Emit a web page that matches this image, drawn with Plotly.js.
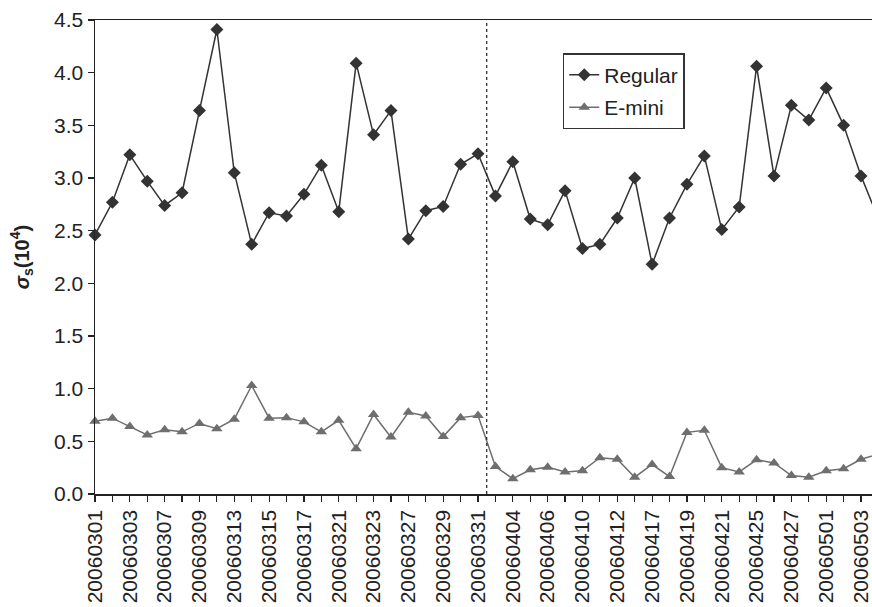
<!DOCTYPE html>
<html>
<head>
<meta charset="utf-8">
<script src="https://cdn.plot.ly/plotly-3.0.1.min.js"></script>
<style>html,body{margin:0;padding:0;background:#fff;}</style>
</head>
<body>
<div id="chart" style="width:872px;height:607px;"></div>
<script>
const dates = ["20060301","20060302","20060303","20060306","20060307","20060308","20060309","20060310",
  "20060313","20060314","20060315","20060316","20060317","20060320","20060321","20060322","20060323",
  "20060324","20060327","20060328","20060329","20060330","20060331","20060403","20060404","20060405",
  "20060406","20060407","20060410","20060411","20060412","20060413","20060417","20060418","20060419",
  "20060420","20060421","20060424","20060425","20060426","20060427","20060428","20060501","20060502",
  "20060503","20060504"];
const regular = [2.46,2.77,3.22,2.97,2.74,2.86,3.64,4.41,3.05,2.37,2.67,2.64,2.845,3.12,2.68,4.09,3.41,
  3.64,2.42,2.69,2.73,3.13,3.23,2.83,3.155,2.61,2.555,2.88,2.33,2.37,2.62,3.00,2.18,2.62,2.94,3.21,
  2.51,2.725,4.06,3.02,3.69,3.55,3.855,3.50,3.02,2.61];
const emini = [0.69,0.72,0.64,0.56,0.61,0.59,0.67,0.62,0.71,1.03,0.72,0.725,0.685,0.59,0.70,0.43,0.755,
  0.54,0.775,0.74,0.545,0.725,0.745,0.26,0.145,0.23,0.255,0.21,0.22,0.345,0.33,0.16,0.28,0.165,0.585,
  0.605,0.25,0.21,0.325,0.295,0.175,0.16,0.22,0.24,0.33,0.38];
const tickLabels = dates.map((d, i) => (i % 2 === 0 ? d : ""));
const splitAt = 22.5;

const font = {family: "Liberation Sans, Arial, sans-serif", size: 21, color: "#222"};

const traces = [
  {x: dates, y: regular, name: "Regular", type: "scatter", mode: "lines+markers", cliponaxis: false,
   legendgroup: "a",
   line: {color: "#333", width: 1.5}, marker: {symbol: "diamond", size: 10, color: "#333"}},
  {x: dates, y: emini, name: "E-mini", type: "scatter", mode: "lines+markers", cliponaxis: false,
   legendgroup: "b",
   line: {color: "#6e6e6e", width: 1.5}, marker: {symbol: "triangle-up", size: 10, color: "#6e6e6e"}}
];

const layout = {
  width: 872, height: 607,
  margin: {l: 95, r: 0, t: 20, b: 113},
  paper_bgcolor: "#fff", plot_bgcolor: "#fff",
  font: font,
  showlegend: true,
  legend: {x: 0.602, y: 0.93, xanchor: "left", yanchor: "top", bgcolor: "#fff",
    bordercolor: "#333", borderwidth: 1.5, font: font, traceorder: "grouped", tracegroupgap: 2},
  xaxis: {type: "category", tickmode: "array", tickvals: dates, ticktext: tickLabels,
    range: [0, 44.63], tickangle: -90, showgrid: false, zeroline: false,
    showline: true, linecolor: "#222", linewidth: 1.5, mirror: true,
    ticks: "outside", ticklen: 6, tickcolor: "#222", tickwidth: 1.2, tickfont: font, automargin: false},
  yaxis: {range: [0, 4.5], dtick: 0.5, tickformat: ".1f", showgrid: false, zeroline: false,
    showline: true, linecolor: "#222", linewidth: 1.5,
    ticks: "outside", ticklen: 6, tickcolor: "#222", tickwidth: 1.2, tickfont: font, automargin: false,
    title: {text: "<b><i>σ</i><sub>s</sub>(10<sup>4</sup>)</b>", font: {family: font.family, size: 20, color: "#222"}, standoff: 19}},
  shapes: [{type: "line", xref: "x", yref: "paper", x0: splitAt, x1: splitAt, y0: 0, y1: 1,
    line: {color: "#222", width: 1.2, dash: "3px,3px"}}]
};

Plotly.newPlot("chart", traces, layout, {displayModeBar: false, staticPlot: true});
</script>
</body>
</html>
